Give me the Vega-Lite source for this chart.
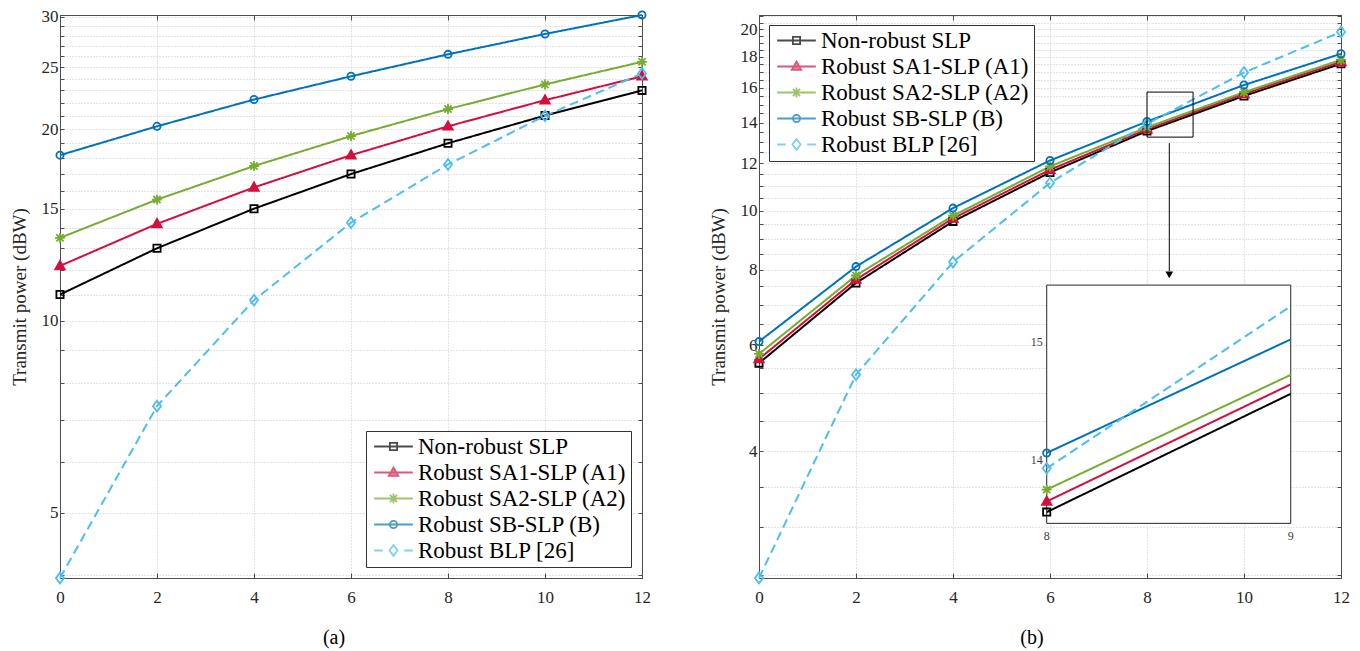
{
  "$schema": "https://vega.github.io/schema/vega-lite/v6.json",
  "padding": {"left": 9, "top": 6, "right": 0, "bottom": 0},
  "background": "white",
  "bounds": "flush",
  "spacing": 117,
  "config": {
    "font": "Liberation Serif",
    "view": {"stroke": "#4d4d4d"},
    "axis": {
      "gridDash": [1, 2], "gridColor": "#c8c8c8", "gridWidth": 1,
      "domainColor": "#4d4d4d", "tickColor": "#4d4d4d",
      "labelFont": "Liberation Serif", "labelFontSize": 17, "labelColor": "#262626",
      "titleFont": "Liberation Serif", "titleFontSize": 19, "titleFontWeight": "normal", "titleColor": "#262626",
      "labelFlush": false, "labelOverlap": false, "labelBound": false
    },
    "legend": {"labelFont": "Liberation Serif", "labelFontSize": 23, "labelColor": "#000000", "labelLimit": 400},
    "title": {"font": "Liberation Serif"},
    "text": {"font": "Liberation Serif"}
  },
  "datasets": {
    "a": [
      {"series": "Non-robust SLP", "snr": 0, "power": 11.0},
      {"series": "Non-robust SLP", "snr": 2, "power": 13.0},
      {"series": "Non-robust SLP", "snr": 4, "power": 15.0},
      {"series": "Non-robust SLP", "snr": 6, "power": 17.0},
      {"series": "Non-robust SLP", "snr": 8, "power": 19.0},
      {"series": "Non-robust SLP", "snr": 10, "power": 21.0},
      {"series": "Non-robust SLP", "snr": 12, "power": 23.0},
      {"series": "Robust SA1-SLP (A1)", "snr": 0, "power": 12.2},
      {"series": "Robust SA1-SLP (A1)", "snr": 2, "power": 14.2},
      {"series": "Robust SA1-SLP (A1)", "snr": 4, "power": 16.2},
      {"series": "Robust SA1-SLP (A1)", "snr": 6, "power": 18.2},
      {"series": "Robust SA1-SLP (A1)", "snr": 8, "power": 20.2},
      {"series": "Robust SA1-SLP (A1)", "snr": 10, "power": 22.2},
      {"series": "Robust SA1-SLP (A1)", "snr": 12, "power": 24.2},
      {"series": "Robust SA2-SLP (A2)", "snr": 0, "power": 13.5},
      {"series": "Robust SA2-SLP (A2)", "snr": 2, "power": 15.5},
      {"series": "Robust SA2-SLP (A2)", "snr": 4, "power": 17.5},
      {"series": "Robust SA2-SLP (A2)", "snr": 6, "power": 19.5},
      {"series": "Robust SA2-SLP (A2)", "snr": 8, "power": 21.5},
      {"series": "Robust SA2-SLP (A2)", "snr": 10, "power": 23.5},
      {"series": "Robust SA2-SLP (A2)", "snr": 12, "power": 25.5},
      {"series": "Robust SB-SLP (B)", "snr": 0, "power": 18.2},
      {"series": "Robust SB-SLP (B)", "snr": 2, "power": 20.2},
      {"series": "Robust SB-SLP (B)", "snr": 4, "power": 22.25},
      {"series": "Robust SB-SLP (B)", "snr": 6, "power": 24.2},
      {"series": "Robust SB-SLP (B)", "snr": 8, "power": 26.2},
      {"series": "Robust SB-SLP (B)", "snr": 10, "power": 28.2},
      {"series": "Robust SB-SLP (B)", "snr": 12, "power": 30.2},
      {"series": "Robust BLP [26]", "snr": 0, "power": 3.95},
      {"series": "Robust BLP [26]", "snr": 2, "power": 7.35},
      {"series": "Robust BLP [26]", "snr": 4, "power": 10.78},
      {"series": "Robust BLP [26]", "snr": 6, "power": 14.26},
      {"series": "Robust BLP [26]", "snr": 8, "power": 17.6},
      {"series": "Robust BLP [26]", "snr": 10, "power": 20.98},
      {"series": "Robust BLP [26]", "snr": 12, "power": 24.45}
    ],
    "b": [
      {"series": "Non-robust SLP", "snr": 0, "power": 5.6},
      {"series": "Non-robust SLP", "snr": 2, "power": 7.6},
      {"series": "Non-robust SLP", "snr": 4, "power": 9.61},
      {"series": "Non-robust SLP", "snr": 6, "power": 11.58},
      {"series": "Non-robust SLP", "snr": 8, "power": 13.56},
      {"series": "Non-robust SLP", "snr": 10, "power": 15.5},
      {"series": "Non-robust SLP", "snr": 12, "power": 17.52},
      {"series": "Robust SA1-SLP (A1)", "snr": 0, "power": 5.69},
      {"series": "Robust SA1-SLP (A1)", "snr": 2, "power": 7.7},
      {"series": "Robust SA1-SLP (A1)", "snr": 4, "power": 9.72},
      {"series": "Robust SA1-SLP (A1)", "snr": 6, "power": 11.7},
      {"series": "Robust SA1-SLP (A1)", "snr": 8, "power": 13.65},
      {"series": "Robust SA1-SLP (A1)", "snr": 10, "power": 15.62},
      {"series": "Robust SA1-SLP (A1)", "snr": 12, "power": 17.65},
      {"series": "Robust SA2-SLP (A2)", "snr": 0, "power": 5.8},
      {"series": "Robust SA2-SLP (A2)", "snr": 2, "power": 7.82},
      {"series": "Robust SA2-SLP (A2)", "snr": 4, "power": 9.82},
      {"series": "Robust SA2-SLP (A2)", "snr": 6, "power": 11.85},
      {"series": "Robust SA2-SLP (A2)", "snr": 8, "power": 13.75},
      {"series": "Robust SA2-SLP (A2)", "snr": 10, "power": 15.72},
      {"series": "Robust SA2-SLP (A2)", "snr": 12, "power": 17.78},
      {"series": "Robust SB-SLP (B)", "snr": 0, "power": 6.08},
      {"series": "Robust SB-SLP (B)", "snr": 2, "power": 8.09},
      {"series": "Robust SB-SLP (B)", "snr": 4, "power": 10.11},
      {"series": "Robust SB-SLP (B)", "snr": 6, "power": 12.12},
      {"series": "Robust SB-SLP (B)", "snr": 8, "power": 14.06},
      {"series": "Robust SB-SLP (B)", "snr": 10, "power": 16.16},
      {"series": "Robust SB-SLP (B)", "snr": 12, "power": 18.2},
      {"series": "Robust BLP [26]", "snr": 0, "power": 2.47},
      {"series": "Robust BLP [26]", "snr": 2, "power": 5.36},
      {"series": "Robust BLP [26]", "snr": 4, "power": 8.23},
      {"series": "Robust BLP [26]", "snr": 6, "power": 11.13},
      {"series": "Robust BLP [26]", "snr": 8, "power": 13.93},
      {"series": "Robust BLP [26]", "snr": 10, "power": 16.95},
      {"series": "Robust BLP [26]", "snr": 12, "power": 19.78}
    ],
    "inset": [
      {"series": "Non-robust SLP", "snr": 8, "power": 13.56},
      {"series": "Non-robust SLP", "snr": 9, "power": 14.56},
      {"series": "Robust SA1-SLP (A1)", "snr": 8, "power": 13.65},
      {"series": "Robust SA1-SLP (A1)", "snr": 9, "power": 14.64},
      {"series": "Robust SA2-SLP (A2)", "snr": 8, "power": 13.75},
      {"series": "Robust SA2-SLP (A2)", "snr": 9, "power": 14.72},
      {"series": "Robust SB-SLP (B)", "snr": 8, "power": 14.06},
      {"series": "Robust SB-SLP (B)", "snr": 9, "power": 15.02},
      {"series": "Robust BLP [26]", "snr": 8, "power": 13.93},
      {"series": "Robust BLP [26]", "snr": 9, "power": 15.3}
    ],
    "zoombox": [{"snr_from": 8, "snr_to": 8.95, "p_low": 13.25, "p_high": 15.73}],
    "arrow": [{"snr": 8.46, "p_from": 12.95, "p_to": 7.95}],
    "arrowhead": [{"snr": 8.46, "power": 7.84}],
    "insetbox": [{"snr_from": 8, "snr_to": 9, "p_low": 13.465, "p_high": 15.479}],
    "insetylab": [{"lab": "14", "snr": 8, "power": 14}, {"lab": "15", "snr": 8, "power": 15}],
    "insetxlab": [{"lab": "8", "snr": 8, "power": 13.465}, {"lab": "9", "snr": 9, "power": 13.465}]
  },
  "hconcat": [
    {
      "width": 582, "height": 563,
      "title": {"text": "(a)", "orient": "bottom", "anchor": "middle", "fontSize": 20, "fontWeight": "normal", "color": "#000000", "offset": 23, "dx": -17},
      "data": {"name": "a"},
      "layer": [
        {
          "mark": {"type": "line", "strokeWidth": 2},
          "encoding": {
            "x": {"field": "snr", "type": "quantitative", "scale": {"domain": [0, 12], "nice": false, "zero": false},
                  "axis": {"orient": "bottom", "values": [0, 2, 4, 6, 8, 10, 12], "format": "d", "title": null, "grid": true, "tickSize": -5, "labelPadding": 16}},
            "y": {"field": "power", "type": "quantitative", "scale": {"type": "log", "domain": [3.95, 30.2], "nice": false},
                  "axis": {"orient": "left", "values": [4,5,6,7,8,9,10,11,12,13,14,15,16,17,18,19,20,21,22,23,24,25,26,27,28,29,30],
                           "labelExpr": "datum.value % 5 === 0 ? format(datum.value, 'd') : ''",
                           "grid": true, "tickSize": -4, "labelPadding": 6, "title": "Transmit power (dBW)", "titlePadding": 12}},
            "color": {"field": "series", "type": "nominal", "legend": null,
                      "scale": {"domain": ["Non-robust SLP", "Robust SA1-SLP (A1)", "Robust SA2-SLP (A2)", "Robust SB-SLP (B)", "Robust BLP [26]"],
                                "range": ["#000000", "#D2103F", "#77AC30", "#0072BD", "#4DBEEE"]}},
            "strokeDash": {"field": "series", "type": "nominal", "legend": null,
                      "scale": {"domain": ["Non-robust SLP", "Robust SA1-SLP (A1)", "Robust SA2-SLP (A2)", "Robust SB-SLP (B)", "Robust BLP [26]"],
                                "range": [[1, 0], [1, 0], [1, 0], [1, 0], [9, 5]]}}
          }
        },
        {
          "mark": {"type": "point", "size": 81, "strokeWidth": 1.8, "opacity": 1},
          "encoding": {
            "x": {"field": "snr", "type": "quantitative",
                  "axis": {"orient": "top", "values": [0, 2, 4, 6, 8, 10, 12], "labels": false, "grid": false, "title": null, "tickSize": -5}},
            "y": {"field": "power", "type": "quantitative",
                  "axis": {"orient": "right", "values": [4,5,6,7,8,9,10,11,12,13,14,15,16,17,18,19,20,21,22,23,24,25,26,27,28,29,30], "labels": false, "grid": false, "title": null, "tickSize": -4}},
            "shape": {"field": "series", "type": "nominal", "legend": null,
                      "scale": {"domain": ["Non-robust SLP", "Robust SA1-SLP (A1)", "Robust SA2-SLP (A2)", "Robust SB-SLP (B)", "Robust BLP [26]"],
                                "range": ["M-0.8,-0.8H0.8V0.8H-0.8Z", "M0,-1.1L1.05,0.75H-1.05Z", "M0,-1.1V1.1M-1.1,0H1.1M-0.8,-0.8L0.8,0.8M-0.8,0.8L0.8,-0.8", "M-0.8,0A0.8,0.8 0 1,0 0.8,0A0.8,0.8 0 1,0 -0.8,0Z", "M0,-1.2L0.9,0L0,1.2L-0.9,0Z"]}},
            "stroke": {"field": "series", "type": "nominal", "legend": null,
                      "scale": {"domain": ["Non-robust SLP", "Robust SA1-SLP (A1)", "Robust SA2-SLP (A2)", "Robust SB-SLP (B)", "Robust BLP [26]"],
                                "range": ["#000000", "#D2103F", "#77AC30", "#0072BD", "#4DBEEE"]}},
            "fill": {"field": "series", "type": "nominal", "legend": null,
                      "scale": {"domain": ["Non-robust SLP", "Robust SA1-SLP (A1)", "Robust SA2-SLP (A2)", "Robust SB-SLP (B)", "Robust BLP [26]"],
                                "range": ["transparent", "#D2103F", "transparent", "transparent", "transparent"]}}
          }
        },
        {
          "transform": [{"filter": "false"}],
          "mark": {"type": "point", "size": 81, "strokeWidth": 1.8},
          "encoding": {
            "x": {"field": "snr", "type": "quantitative", "axis": null},
            "y": {"field": "power", "type": "quantitative", "axis": null},
            "shape": {"field": "series", "type": "nominal",
                      "scale": {"domain": ["Non-robust SLP", "Robust SA1-SLP (A1)", "Robust SA2-SLP (A2)", "Robust SB-SLP (B)", "Robust BLP [26]"],
                                "range": ["M-4.3,0H4.3M-0.8,-0.8H0.8V0.8H-0.8Z", "M-4.3,0H4.3M0,-1.1L1.05,0.75H-1.05Z", "M-4.3,0H4.3M0,-1.1V1.1M-1.1,0H1.1M-0.8,-0.8L0.8,0.8M-0.8,0.8L0.8,-0.8", "M-4.3,0H4.3M-0.8,0A0.8,0.8 0 1,0 0.8,0A0.8,0.8 0 1,0 -0.8,0Z", "M-4.3,0H-2.4M2.4,0H4.3M0,-1.2L0.9,0L0,1.2L-0.9,0Z"]},
                      "legend": {"orient": "bottom-right", "offset": 11, "title": null, "labelFontSize": 23, "labelColor": "#000000", "labelLimit": 400,
                                 "symbolSize": 81, "symbolStrokeWidth": 1.8, "symbolOffset": 12, "labelOffset": 13,
                                 "rowPadding": 2, "padding": 4, "strokeColor": "#333333", "fillColor": "#ffffff", "cornerRadius": 0}},
            "stroke": {"field": "series", "type": "nominal",
                      "scale": {"domain": ["Non-robust SLP", "Robust SA1-SLP (A1)", "Robust SA2-SLP (A2)", "Robust SB-SLP (B)", "Robust BLP [26]"],
                                "range": ["#000000", "#D2103F", "#77AC30", "#0072BD", "#4DBEEE"]},
                      "legend": {"orient": "bottom-right", "offset": 11, "title": null, "labelFontSize": 23, "labelColor": "#000000", "labelLimit": 400,
                                 "symbolSize": 81, "symbolStrokeWidth": 1.8, "symbolOffset": 12, "labelOffset": 13,
                                 "rowPadding": 2, "padding": 4, "strokeColor": "#333333", "fillColor": "#ffffff", "cornerRadius": 0}},
            "fill": {"field": "series", "type": "nominal",
                      "scale": {"domain": ["Non-robust SLP", "Robust SA1-SLP (A1)", "Robust SA2-SLP (A2)", "Robust SB-SLP (B)", "Robust BLP [26]"],
                                "range": ["transparent", "#D2103F", "transparent", "transparent", "transparent"]},
                      "legend": {"orient": "bottom-right", "offset": 11, "title": null, "labelFontSize": 23, "labelColor": "#000000", "labelLimit": 400,
                                 "symbolSize": 81, "symbolStrokeWidth": 1.8, "symbolOffset": 12, "labelOffset": 13,
                                 "rowPadding": 2, "padding": 4, "strokeColor": "#333333", "fillColor": "#ffffff", "cornerRadius": 0}}
          }
        }
      ],
      "resolve": {"scale": {"shape": "independent", "stroke": "independent", "fill": "independent"}}
    },
    {
      "width": 582, "height": 563,
      "title": {"text": "(b)", "orient": "bottom", "anchor": "middle", "fontSize": 20, "fontWeight": "normal", "color": "#000000", "offset": 23, "dx": -18},
      "layer": [
        {
          "layer": [
            {
              "data": {"name": "b"},
              "mark": {"type": "line", "strokeWidth": 2},
              "encoding": {
                "x": {"field": "snr", "type": "quantitative", "scale": {"domain": [0, 12], "nice": false, "zero": false},
                      "axis": {"orient": "bottom", "values": [0, 2, 4, 6, 8, 10, 12], "format": "d", "title": null, "grid": true, "tickSize": -5, "labelPadding": 16}},
                "y": {"field": "power", "type": "quantitative", "scale": {"type": "log", "domain": [2.47, 21.1], "nice": false},
                      "axis": {"orient": "left", "values": [2.5,3,3.5,4,4.5,5,5.5,6,6.5,7,7.5,8,8.5,9,9.5,10,10.5,11,11.5,12,12.5,13,13.5,14,14.5,15,15.5,16,16.5,17,17.5,18,18.5,19,19.5,20,20.5,21],
                               "labelExpr": "datum.value >= 4 && datum.value % 2 === 0 ? format(datum.value, 'd') : ''",
                               "grid": true, "tickSize": -4, "labelPadding": 6, "title": "Transmit power (dBW)", "titlePadding": 12}},
                "color": {"field": "series", "type": "nominal", "legend": null,
                          "scale": {"domain": ["Non-robust SLP", "Robust SA1-SLP (A1)", "Robust SA2-SLP (A2)", "Robust SB-SLP (B)", "Robust BLP [26]"],
                                    "range": ["#000000", "#D2103F", "#77AC30", "#0072BD", "#4DBEEE"]}},
                "strokeDash": {"field": "series", "type": "nominal", "legend": null,
                          "scale": {"domain": ["Non-robust SLP", "Robust SA1-SLP (A1)", "Robust SA2-SLP (A2)", "Robust SB-SLP (B)", "Robust BLP [26]"],
                                    "range": [[1, 0], [1, 0], [1, 0], [1, 0], [9, 5]]}}
              }
            },
            {
              "data": {"name": "b"},
              "mark": {"type": "point", "size": 81, "strokeWidth": 1.8, "opacity": 1},
              "encoding": {
                "x": {"field": "snr", "type": "quantitative",
                      "axis": {"orient": "top", "values": [0, 2, 4, 6, 8, 10, 12], "labels": false, "grid": false, "title": null, "tickSize": -5}},
                "y": {"field": "power", "type": "quantitative",
                      "axis": {"orient": "right", "values": [2.5,3,3.5,4,4.5,5,5.5,6,6.5,7,7.5,8,8.5,9,9.5,10,10.5,11,11.5,12,12.5,13,13.5,14,14.5,15,15.5,16,16.5,17,17.5,18,18.5,19,19.5,20,20.5,21], "labels": false, "grid": false, "title": null, "tickSize": -4}},
                "shape": {"field": "series", "type": "nominal", "legend": null,
                          "scale": {"domain": ["Non-robust SLP", "Robust SA1-SLP (A1)", "Robust SA2-SLP (A2)", "Robust SB-SLP (B)", "Robust BLP [26]"],
                                    "range": ["M-0.8,-0.8H0.8V0.8H-0.8Z", "M0,-1.1L1.05,0.75H-1.05Z", "M0,-1.1V1.1M-1.1,0H1.1M-0.8,-0.8L0.8,0.8M-0.8,0.8L0.8,-0.8", "M-0.8,0A0.8,0.8 0 1,0 0.8,0A0.8,0.8 0 1,0 -0.8,0Z", "M0,-1.2L0.9,0L0,1.2L-0.9,0Z"]}},
                "stroke": {"field": "series", "type": "nominal", "legend": null,
                          "scale": {"domain": ["Non-robust SLP", "Robust SA1-SLP (A1)", "Robust SA2-SLP (A2)", "Robust SB-SLP (B)", "Robust BLP [26]"],
                                    "range": ["#000000", "#D2103F", "#77AC30", "#0072BD", "#4DBEEE"]}},
                "fill": {"field": "series", "type": "nominal", "legend": null,
                          "scale": {"domain": ["Non-robust SLP", "Robust SA1-SLP (A1)", "Robust SA2-SLP (A2)", "Robust SB-SLP (B)", "Robust BLP [26]"],
                                    "range": ["transparent", "#D2103F", "transparent", "transparent", "transparent"]}}
              }
            },
            {
              "data": {"name": "b"},
              "transform": [{"filter": "false"}],
              "mark": {"type": "point", "size": 81, "strokeWidth": 1.8},
              "encoding": {
                "x": {"field": "snr", "type": "quantitative", "axis": null},
                "y": {"field": "power", "type": "quantitative", "axis": null},
                "shape": {"field": "series", "type": "nominal",
                          "scale": {"domain": ["Non-robust SLP", "Robust SA1-SLP (A1)", "Robust SA2-SLP (A2)", "Robust SB-SLP (B)", "Robust BLP [26]"],
                                    "range": ["M-4.3,0H4.3M-0.8,-0.8H0.8V0.8H-0.8Z", "M-4.3,0H4.3M0,-1.1L1.05,0.75H-1.05Z", "M-4.3,0H4.3M0,-1.1V1.1M-1.1,0H1.1M-0.8,-0.8L0.8,0.8M-0.8,0.8L0.8,-0.8", "M-4.3,0H4.3M-0.8,0A0.8,0.8 0 1,0 0.8,0A0.8,0.8 0 1,0 -0.8,0Z", "M-4.3,0H-2.4M2.4,0H4.3M0,-1.2L0.9,0L0,1.2L-0.9,0Z"]},
                          "legend": {"orient": "top-left", "offset": 10, "title": null, "labelFontSize": 23, "labelColor": "#000000", "labelLimit": 400,
                                     "symbolSize": 81, "symbolStrokeWidth": 1.8, "symbolOffset": 12, "labelOffset": 13,
                                     "rowPadding": 2, "padding": 4, "strokeColor": "#333333", "fillColor": "#ffffff", "cornerRadius": 0}},
                "stroke": {"field": "series", "type": "nominal",
                          "scale": {"domain": ["Non-robust SLP", "Robust SA1-SLP (A1)", "Robust SA2-SLP (A2)", "Robust SB-SLP (B)", "Robust BLP [26]"],
                                    "range": ["#000000", "#D2103F", "#77AC30", "#0072BD", "#4DBEEE"]},
                          "legend": {"orient": "top-left", "offset": 10, "title": null, "labelFontSize": 23, "labelColor": "#000000", "labelLimit": 400,
                                     "symbolSize": 81, "symbolStrokeWidth": 1.8, "symbolOffset": 12, "labelOffset": 13,
                                     "rowPadding": 2, "padding": 4, "strokeColor": "#333333", "fillColor": "#ffffff", "cornerRadius": 0}},
                "fill": {"field": "series", "type": "nominal",
                          "scale": {"domain": ["Non-robust SLP", "Robust SA1-SLP (A1)", "Robust SA2-SLP (A2)", "Robust SB-SLP (B)", "Robust BLP [26]"],
                                    "range": ["transparent", "#D2103F", "transparent", "transparent", "transparent"]},
                          "legend": {"orient": "top-left", "offset": 10, "title": null, "labelFontSize": 23, "labelColor": "#000000", "labelLimit": 400,
                                     "symbolSize": 81, "symbolStrokeWidth": 1.8, "symbolOffset": 12, "labelOffset": 13,
                                     "rowPadding": 2, "padding": 4, "strokeColor": "#333333", "fillColor": "#ffffff", "cornerRadius": 0}}
              }
            },
            {
              "data": {"name": "zoombox"},
              "mark": {"type": "rect", "fill": null, "fillOpacity": 0, "stroke": "#000000", "strokeWidth": 1},
              "encoding": {
                "x": {"field": "snr_from", "type": "quantitative", "axis": null},
                "x2": {"field": "snr_to"},
                "y": {"field": "p_low", "type": "quantitative", "axis": null},
                "y2": {"field": "p_high"}
              }
            },
            {
              "data": {"name": "arrow"},
              "mark": {"type": "rule", "stroke": "#000000", "strokeWidth": 1},
              "encoding": {
                "x": {"field": "snr", "type": "quantitative", "axis": null},
                "y": {"field": "p_from", "type": "quantitative", "axis": null},
                "y2": {"field": "p_to"}
              }
            },
            {
              "data": {"name": "arrowhead"},
              "mark": {"type": "point", "shape": "triangle-down", "filled": true, "color": "#000000", "size": 60, "opacity": 1},
              "encoding": {
                "x": {"field": "snr", "type": "quantitative", "axis": null},
                "y": {"field": "power", "type": "quantitative", "axis": null}
              }
            }
          ],
          "resolve": {"scale": {"shape": "independent", "stroke": "independent", "fill": "independent"}}
        },
        {
          "layer": [
            {
              "data": {"name": "insetbox"},
              "mark": {"type": "rect", "fill": "#ffffff", "stroke": "#262626", "strokeWidth": 1},
              "encoding": {
                "x": {"field": "snr_from", "type": "quantitative", "axis": null, "scale": {"domain": [6.821, 9.206], "nice": false, "zero": false}},
                "x2": {"field": "snr_to"},
                "y": {"field": "p_low", "type": "quantitative", "axis": null, "scale": {"domain": [13.003, 17.762], "nice": false, "zero": false}},
                "y2": {"field": "p_high"}
              }
            },
            {
              "data": {"name": "inset"},
              "mark": {"type": "line", "strokeWidth": 2},
              "encoding": {
                "x": {"field": "snr", "type": "quantitative", "axis": null},
                "y": {"field": "power", "type": "quantitative", "axis": null},
                "color": {"field": "series", "type": "nominal", "legend": null,
                          "scale": {"domain": ["Non-robust SLP", "Robust SA1-SLP (A1)", "Robust SA2-SLP (A2)", "Robust SB-SLP (B)", "Robust BLP [26]"],
                                    "range": ["#000000", "#D2103F", "#77AC30", "#0072BD", "#4DBEEE"]}},
                "strokeDash": {"field": "series", "type": "nominal", "legend": null,
                          "scale": {"domain": ["Non-robust SLP", "Robust SA1-SLP (A1)", "Robust SA2-SLP (A2)", "Robust SB-SLP (B)", "Robust BLP [26]"],
                                    "range": [[1, 0], [1, 0], [1, 0], [1, 0], [9, 5]]}}
              }
            },
            {
              "data": {"name": "inset"},
              "transform": [{"filter": "datum.snr === 8"}],
              "mark": {"type": "point", "size": 81, "strokeWidth": 1.8, "opacity": 1},
              "encoding": {
                "x": {"field": "snr", "type": "quantitative", "axis": null},
                "y": {"field": "power", "type": "quantitative", "axis": null},
                "shape": {"field": "series", "type": "nominal", "legend": null,
                          "scale": {"domain": ["Non-robust SLP", "Robust SA1-SLP (A1)", "Robust SA2-SLP (A2)", "Robust SB-SLP (B)", "Robust BLP [26]"],
                                    "range": ["M-0.8,-0.8H0.8V0.8H-0.8Z", "M0,-1.1L1.05,0.75H-1.05Z", "M0,-1.1V1.1M-1.1,0H1.1M-0.8,-0.8L0.8,0.8M-0.8,0.8L0.8,-0.8", "M-0.8,0A0.8,0.8 0 1,0 0.8,0A0.8,0.8 0 1,0 -0.8,0Z", "M0,-1.2L0.9,0L0,1.2L-0.9,0Z"]}},
                "stroke": {"field": "series", "type": "nominal", "legend": null,
                          "scale": {"domain": ["Non-robust SLP", "Robust SA1-SLP (A1)", "Robust SA2-SLP (A2)", "Robust SB-SLP (B)", "Robust BLP [26]"],
                                    "range": ["#000000", "#D2103F", "#77AC30", "#0072BD", "#4DBEEE"]}},
                "fill": {"field": "series", "type": "nominal", "legend": null,
                          "scale": {"domain": ["Non-robust SLP", "Robust SA1-SLP (A1)", "Robust SA2-SLP (A2)", "Robust SB-SLP (B)", "Robust BLP [26]"],
                                    "range": ["transparent", "#D2103F", "transparent", "transparent", "transparent"]}}
              }
            },
            {
              "data": {"name": "insetylab"},
              "mark": {"type": "text", "align": "right", "baseline": "middle", "dx": -4, "fontSize": 12, "color": "#404040"},
              "encoding": {
                "x": {"field": "snr", "type": "quantitative", "axis": null},
                "y": {"field": "power", "type": "quantitative", "axis": null},
                "text": {"field": "lab"}
              }
            },
            {
              "data": {"name": "insetxlab"},
              "mark": {"type": "text", "align": "center", "baseline": "top", "dy": 8, "fontSize": 12, "color": "#404040"},
              "encoding": {
                "x": {"field": "snr", "type": "quantitative", "axis": null},
                "y": {"field": "power", "type": "quantitative", "axis": null},
                "text": {"field": "lab"}
              }
            }
          ],
          "resolve": {"scale": {"shape": "independent", "stroke": "independent", "fill": "independent"}}
        }
      ],
      "resolve": {"scale": {"x": "independent", "y": "independent", "shape": "independent", "stroke": "independent", "fill": "independent"}}
    }
  ]
}
